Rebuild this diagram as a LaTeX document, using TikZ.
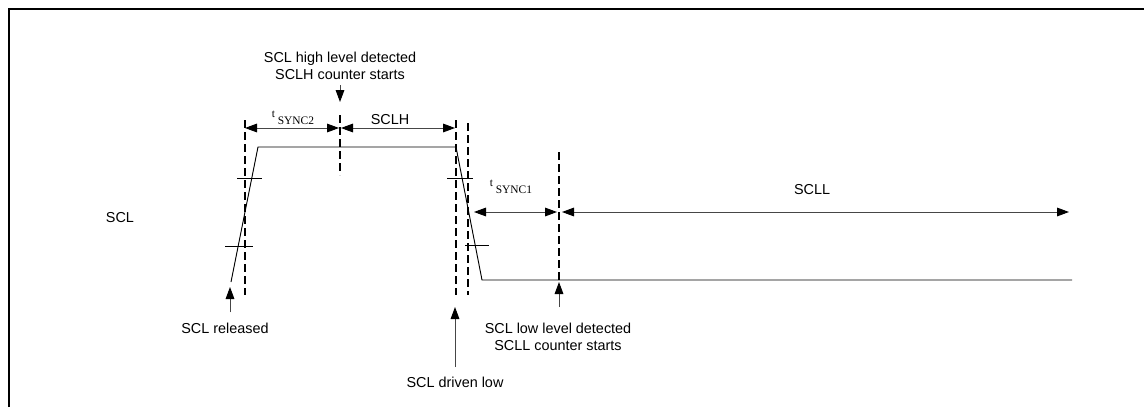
\documentclass[tikz,border=0pt]{standalone}
\usepackage{fontspec}
\setmainfont{Liberation Sans}
\newfontfamily\timesfont{Liberation Serif}
\usetikzlibrary{arrows.meta, positioning}
\definecolor{linegray}{RGB}{70,70,70}

\newcommand{\tsync}[1]{{\timesfont\fontsize{8.6}{10}\selectfont\raisebox{5pt}{t}\hspace{2pt}SYNC#1}}

\begin{document}
\begin{tikzpicture}[x=0.75pt,y=-0.75pt,
        wave/.style={line width=0.7pt},
        guide/.style={line width=1.4pt,dash pattern=on 6pt off 3pt},
        tickmark/.style={line width=0.6pt},
        span/.style={{Triangle[length=9pt,width=6.5pt,color=black]}-{Triangle[length=9pt,width=6.5pt,color=black]},line width=0.7pt,linegray},
        pointer/.style={-{Triangle[length=9pt,width=6.5pt,color=black]},line width=0.7pt,linegray},
        lbl/.style={font=\fontsize{10.8}{12.75}\selectfont,inner sep=0pt,align=center}]
        \useasboundingbox (0,0) rectangle (1144,407);

        % Frame
        \draw[line width=1.5pt] (9,407) -- (9,9) -- (1144,9);

        % Waveform
        \coordinate (riseLow) at (231,282);
        \coordinate (riseHigh) at (258,147);
        \coordinate (fallHigh) at (456,147);
        \coordinate (fallLow) at (482,280);
        \coordinate (lowEnd) at (1072,280);
        \draw[wave] (riseLow) -- (riseHigh) -- (fallHigh) -- (fallLow) -- (lowEnd);

        % Threshold ticks
        \draw[tickmark] (237,178) -- (262,178);
        \draw[tickmark] (225,246) -- (253,246);
        \draw[tickmark] (447,178) -- (473,178);
        \draw[tickmark] (465,245) -- (489,245);

        % Dashed guides
        \draw[guide] (245,120) -- (245,295);
        \draw[guide] (340,115) -- (340,175);
        \draw[guide] (456,120) -- (456,295);
        \draw[guide] (468,123) -- (468,295);
        \draw[guide] (559,152) -- (559,280);

        % Spans
        \coordinate (syncTwoL) at (245,128);
        \coordinate (syncTwoR) at (339,128);
        \coordinate (highL) at (341,128);
        \coordinate (highR) at (455,128);
        \coordinate (syncOneL) at (474,212);
        \coordinate (syncOneR) at (557,212);
        \coordinate (lowL) at (562,212);
        \coordinate (lowR) at (1069,212);
        \draw[span] (syncTwoL) -- (syncTwoR);
        \draw[span] (highL) -- (highR);
        \draw[span] (syncOneL) -- (syncOneR);
        \draw[span] (lowL) -- (lowR);

        % Span labels
        \node[lbl,anchor=base] (syncTwo) at (293,124) {\tsync{2}};
        \node[lbl,anchor=base] (sclh) at (390,124) {SCLH};
        \node[lbl,anchor=base] (syncOne) at (511,193) {\tsync{1}};
        \node[lbl,anchor=base] (scll) at (812,194) {SCLL};
        \node[lbl,anchor=base] (scl) at (120,222) {SCL};

        % Events
        \coordinate (highTip) at (340,102);
        \coordinate (relTip) at (230,287);
        \coordinate (drivenTip) at (455,307);
        \coordinate (lowTip) at (559,282);
        \node[lbl,anchor=south] (highDet) at (340,80) {SCL high level detected\\SCLH counter starts};
        \node[lbl,anchor=north] (released) at (225,323) {SCL released};
        \node[lbl,anchor=north] (driven) at (455,377) {SCL driven low};
        \node[lbl,anchor=north] (lowDet) at (558,323) {SCL low level detected\\SCLL counter starts};
        \draw[pointer,shorten <=3.75pt] (highDet.south) -- (highTip);
        \draw[pointer,shorten <=8pt] (released.north -| relTip) -- (relTip);
        \draw[pointer,shorten <=7.5pt] (driven.north) -- (drivenTip);
        \draw[pointer,shorten <=12pt] (lowDet.north -| lowTip) -- (lowTip);
\end{tikzpicture}
\end{document}
